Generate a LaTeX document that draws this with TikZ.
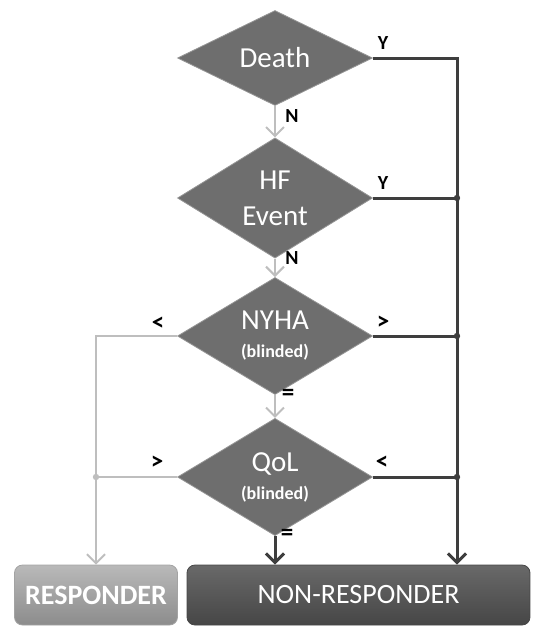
\documentclass[tikz,border=0pt]{standalone}
\usepackage{fontspec}
\setmainfont{Carlito}
\usetikzlibrary{shapes.geometric,arrows.meta}

\definecolor{decfill}{RGB}{110,110,110}
\definecolor{decedge}{RGB}{150,150,150}
\definecolor{darkline}{RGB}{62,62,62}
\definecolor{lightline}{RGB}{190,190,190}
\definecolor{resptop}{RGB}{185,185,185}
\definecolor{respbot}{RGB}{140,140,140}
\definecolor{nontop}{RGB}{105,105,105}
\definecolor{nonbot}{RGB}{70,70,70}

\newcommand{\blindfont}{\fontsize{9}{10}\selectfont\bfseries}

\tikzset{
    decision/.style={diamond,draw=decedge,fill=decfill,text=white,inner sep=0pt,
        minimum width=97.5pt,minimum height=47.5pt,align=center,
        font=\fontsize{14.5}{18}\selectfont},
    outcome/.style={rectangle,rounded corners=4pt,text=white,minimum height=30pt,
        font=\fontsize{14}{16}\selectfont},
    strongline/.style={draw=darkline,line width=1.5pt},
    weakline/.style={draw=lightline,line width=1pt},
    strong/.style={strongline,-{Straight Barb[length=4.5pt,width=9pt]}},
    weak/.style={weakline,-{Straight Barb[length=4.5pt,width=9pt]}},
    tag/.style={font=\fontsize{10}{12}\selectfont\bfseries,text=black,inner sep=0pt},
    sign/.style={tag,font=\fontsize{12.5}{14}\selectfont\bfseries}
}

\begin{document}
\begin{tikzpicture}[x=0.5pt,y=-0.5pt]
        % Frame
        \useasboundingbox (0,0) rectangle (535,632);

        % Decisions
        \node[decision] (death) at (275,58) {Death};
        \node[decision] (hf) at (275,198) {HF\\Event};
        \node[decision] (nyha) at (275,336) {NYHA\\[-4pt]{\blindfont(blinded)}};
        \node[decision] (qol) at (275,477) {QoL\\[-4pt]{\blindfont(blinded)}};

        % Outcomes
        \node[outcome,draw=respbot!80!white,top color=resptop,bottom color=respbot,
            minimum width=81.5pt,font=\fontsize{14}{16}\selectfont\bfseries] (resp) at (96,595) {RESPONDER};
        \node[outcome,draw=nonbot,top color=nontop,bottom color=nonbot,
            minimum width=171.5pt] (nonresp) at (358.5,595) {NON-RESPONDER};

        % Rails
        \coordinate (rrail) at (457,0);

        % Flow
        \draw[weak] (death) -- (hf);
        \draw[weak] (hf) -- (nyha);
        \draw[weak] (nyha) -- (qol);
        \draw[strong] (qol) -- (qol |- nonresp.north);
        \draw[strong] (death.east) -| (rrail |- nonresp.north);
        \foreach \n in {hf,nyha,qol} {
            \draw[strongline] (\n.east) -- (\n.east -| rrail);
            \fill[darkline] (\n.east -| rrail) circle (1.6pt);
        }
        \draw[weak] (nyha.west) -| (resp.north);
        \draw[weakline] (qol.west) -- (qol.west -| resp.north);
        \fill[lightline] (qol.west -| resp.north) circle (1.6pt);

        % Labels
        \node[tag] (deathy) at (383,43) {Y};
        \node[tag] (deathn) at (292,116) {N};
        \node[tag] (hfy) at (383,183) {Y};
        \node[tag] (hfn) at (292,258) {N};
        \node[sign] (nyhalt) at (158,324) {<};
        \node[sign] (nyhagt) at (383,323) {>};
        \node[sign] (nyhaeq) at (288,395) {=};
        \node[sign] (qolgt) at (157,463) {>};
        \node[sign] (qollt) at (382,463) {<};
        \node[sign] (qoleq) at (287,535) {=};
\end{tikzpicture}
\end{document}
